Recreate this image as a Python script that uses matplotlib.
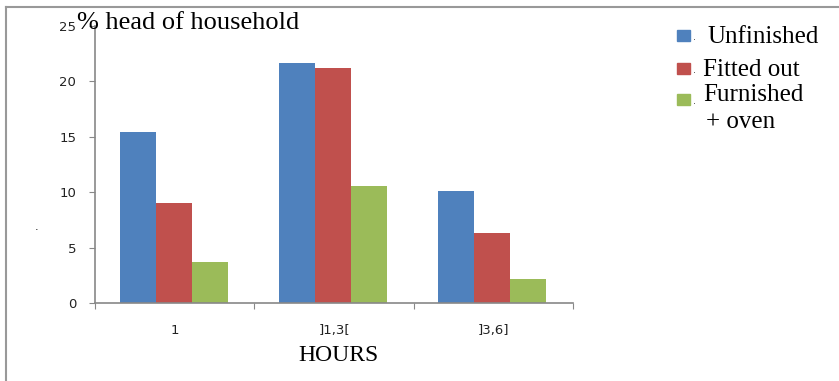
import matplotlib.pyplot as plt
import matplotlib.patches as mpatches
import numpy as np

CATEGORIES = ["1", "]1,3[", "]3,6]"]
SERIES = ["Unfinished", "Fitted out", "Furnished", "+ oven"]
UNFINISHED = [15.4, 21.6, 10.1]
FITTED_OUT = [9.0, 21.2, 6.3]
FURNISHED = [3.7, 10.6, 2.2]
COLORS = ["#4f81bd", "#c0504d", "#9bbb59"]

SERIF = "Liberation Serif"

fig = plt.figure(figsize=(8.39, 3.81), dpi=100)
ax = fig.add_axes([0.1132, 0.204, 0.5698, 0.729])

x = np.arange(len(CATEGORIES))
w = 0.226
for i, (vals, c) in enumerate(zip([UNFINISHED, FITTED_OUT, FURNISHED], COLORS)):
    ax.bar(x + (i - 1) * w - 0.006, vals, w, color=c, edgecolor="none")

ax.set_xlim(-0.5, 2.5)
ax.set_ylim(0, 25)
ax.set_yticks([0, 5, 10, 15, 20, 25])
ax.set_yticklabels(["0", "5", "10", "15", "20", "25"])
ax.set_xticks([-0.5, 0.5, 1.5, 2.5], minor=False)
ax.set_xticklabels([])
ax.set_xticks(x, minor=True)
ax.set_xticklabels(CATEGORIES, minor=True)
ax.tick_params(axis="x", which="minor", length=0, pad=15, labelsize=9.5, labelcolor="#222222")
ax.tick_params(axis="x", which="major", length=4, direction="out", color="#888888")
ax.tick_params(axis="y", length=4.5, direction="out", color="#888888", labelsize=9.5,
               labelcolor="#222222", pad=9)

for side in ["top", "right"]:
    ax.spines[side].set_visible(False)
for side in ["left", "bottom"]:
    ax.spines[side].set_color("#888888")
    ax.spines[side].set_linewidth(1.2)

# titles
fig.text(0.092, 1 - 29 / 381, "% head of household", family=SERIF, fontsize=19,
         ha="left", va="baseline")
fig.text(0.404, 1 - 361 / 381, "HOURS", family=SERIF, fontsize=17,
         ha="center", va="baseline")
fig.text(0.044, 0.405, ".", fontsize=8, ha="center", va="center")

# legend: squares and labels placed by hand
sq_x0, sq_x1 = 677 / 839, 690 / 839
sq_rows = [(30, 41), (63, 74), (94, 105)]
for (top, bot), c in zip(sq_rows, COLORS):
    fig.add_artist(mpatches.Rectangle((sq_x0, 1 - bot / 381), sq_x1 - sq_x0,
                                      (bot - top) / 381, color=c,
                                      transform=fig.transFigure))
    fig.text(693 / 839, 1 - (bot - 1) / 381, ".", fontsize=7, ha="left",
             va="baseline", color="#444444")

label_pos = [(707, 43), (703, 76), (703, 101), (706, 128)]
for (lx, by), s in zip(label_pos, SERIES):
    fig.text(lx / 839, 1 - by / 381, s, family=SERIF, fontsize=18,
             ha="left", va="baseline")

# outer frame: left and top edges only
fig.add_artist(plt.Line2D([0.0077, 0.0077], [0, 0.982], color="#999999", lw=1.5,
                          transform=fig.transFigure))
fig.add_artist(plt.Line2D([0.0077, 1.0], [0.982, 0.982], color="#999999", lw=1.5,
                          transform=fig.transFigure))

fig.savefig("out.png", dpi=100)
